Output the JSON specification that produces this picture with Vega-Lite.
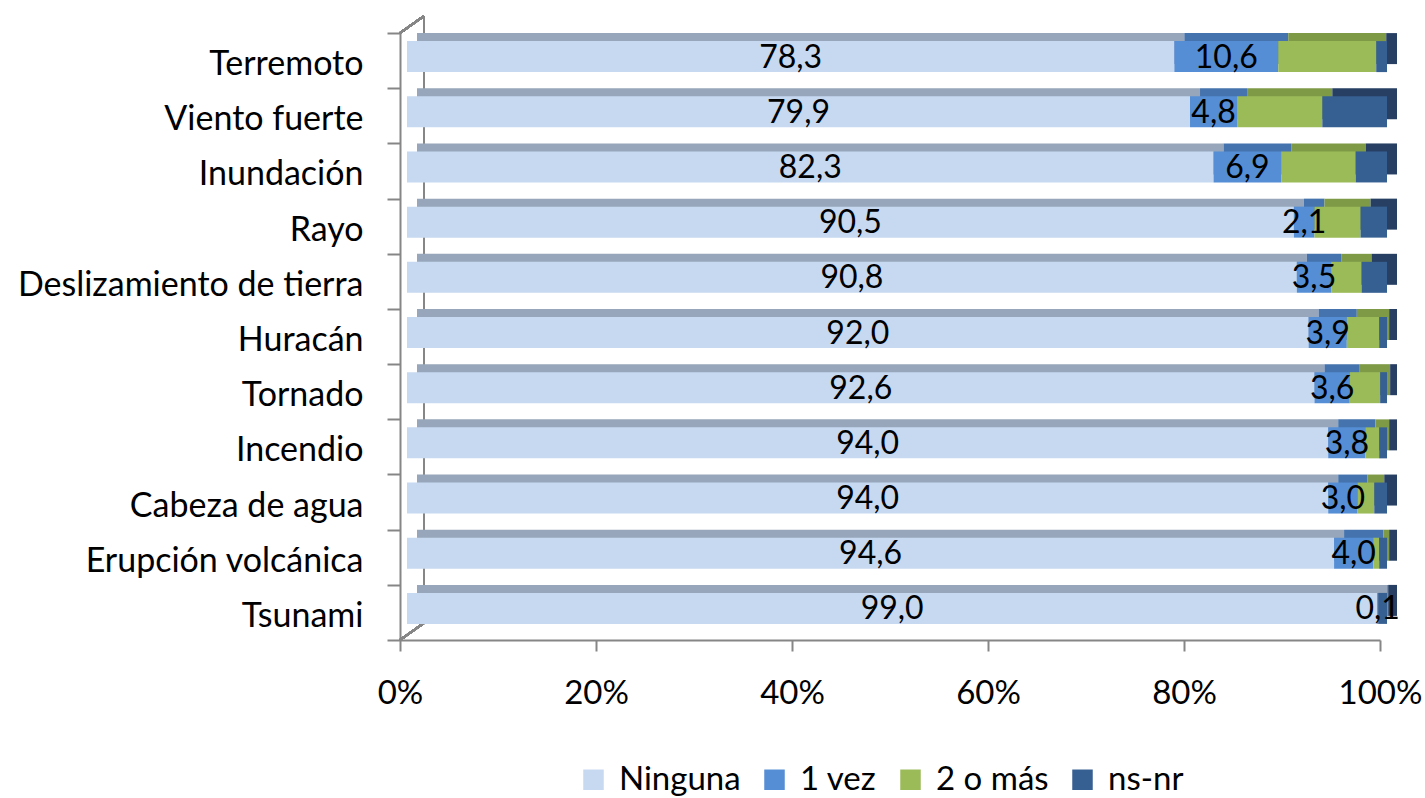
{
  "$schema": "https://vega.github.io/schema/vega-lite/v6.json",
  "width": 980,
  "height": 607,
  "autosize": {"type": "none"},
  "padding": {"left": 400, "top": 33, "right": 45, "bottom": 158},
  "config": {
    "locale": {"number": {"decimal": ",", "thousands": ".", "grouping": [3], "currency": ["", " €"]}},
    "view": {"stroke": null},
    "font": "Lato"
  },
  "data": {
    "values": [
      {"evento": "Terremoto", "Ninguna": 78.3, "1 vez": 10.6, "2 o más": 10.0, "ns-nr": 1.1},
      {"evento": "Viento fuerte", "Ninguna": 79.9, "1 vez": 4.8, "2 o más": 8.7, "ns-nr": 6.6},
      {"evento": "Inundación", "Ninguna": 82.3, "1 vez": 6.9, "2 o más": 7.6, "ns-nr": 3.2},
      {"evento": "Rayo", "Ninguna": 90.5, "1 vez": 2.1, "2 o más": 4.7, "ns-nr": 2.7},
      {"evento": "Deslizamiento de tierra", "Ninguna": 90.8, "1 vez": 3.5, "2 o más": 3.1, "ns-nr": 2.6},
      {"evento": "Huracán", "Ninguna": 92.0, "1 vez": 3.9, "2 o más": 3.3, "ns-nr": 0.8},
      {"evento": "Tornado", "Ninguna": 92.6, "1 vez": 3.6, "2 o más": 3.1, "ns-nr": 0.7},
      {"evento": "Incendio", "Ninguna": 94.0, "1 vez": 3.8, "2 o más": 1.4, "ns-nr": 0.8},
      {"evento": "Cabeza de agua", "Ninguna": 94.0, "1 vez": 3.0, "2 o más": 1.7, "ns-nr": 1.3},
      {"evento": "Erupción volcánica", "Ninguna": 94.6, "1 vez": 4.0, "2 o más": 0.6, "ns-nr": 0.8},
      {"evento": "Tsunami", "Ninguna": 99.0, "1 vez": 0.1, "2 o más": 0.0, "ns-nr": 0.9}
    ]
  },
  "transform": [
    {"fold": ["Ninguna", "1 vez", "2 o más", "ns-nr"], "as": ["cat", "value"]},
    {"calculate": "indexof(['Ninguna','1 vez','2 o más','ns-nr'], datum.cat)", "as": "ord"},
    {"stack": "value", "groupby": ["evento"], "sort": [{"field": "ord", "order": "ascending"}], "as": ["x0", "x1"]},
    {"calculate": "(datum.x0 + datum.x1) / 2", "as": "xm"}
  ],
  "resolve": {"scale": {"color": "independent"}, "legend": {"color": "independent"}},
  "layer": [
    {
      "mark": {"type": "rule", "color": "#868686", "strokeWidth": 2, "xOffset": 24, "yOffset": -17, "y2Offset": 10.6},
      "encoding": {
        "x": {"datum": 0, "type": "quantitative", "scale": {"domain": [0, 100], "nice": false}},
        "y": {"datum": "Terremoto", "type": "nominal", "bandPosition": 0},
        "y2": {"datum": "Tsunami"}
      }
    },
    {
      "mark": {"type": "rule", "color": "#868686", "strokeWidth": 2, "x2Offset": 24, "y2Offset": -44.6},
      "encoding": {
        "x": {"datum": 0, "type": "quantitative"},
        "x2": {"datum": 0},
        "y": {"datum": "Terremoto", "type": "nominal", "bandPosition": 0},
        "y2": {"datum": "Terremoto"}
      }
    },
    {
      "mark": {"type": "rule", "color": "#868686", "strokeWidth": 2, "x2Offset": 24, "y2Offset": 10.6},
      "encoding": {
        "x": {"datum": 0, "type": "quantitative"},
        "x2": {"datum": 0},
        "y": {"datum": "Tsunami", "type": "nominal", "bandPosition": 1},
        "y2": {"datum": "Tsunami"}
      }
    },
    {
      "mark": {"type": "bar", "size": 31, "xOffset": 17, "x2Offset": 17, "yOffset": -12},
      "encoding": {
        "y": {"field": "evento", "type": "nominal", "sort": ["Terremoto", "Viento fuerte", "Inundación", "Rayo", "Deslizamiento de tierra", "Huracán", "Tornado", "Incendio", "Cabeza de agua", "Erupción volcánica", "Tsunami"], "scale": {"paddingInner": 0, "paddingOuter": 0},
          "axis": {"title": null, "tickBand": "extent", "domainColor": "#868686", "domainWidth": 2, "tickColor": "#868686", "tickWidth": 2, "tickSize": 13, "labelFontSize": 34, "labelColor": "#000000", "labelPadding": 24, "labelFont": "Lato", "labelLimit": 400, "labelOffset": 4}},
        "x": {"field": "x0", "type": "quantitative", "scale": {"domain": [0, 100], "nice": false}},
        "x2": {"field": "x1"},
        "color": {"field": "cat", "type": "nominal", "scale": {"domain": ["Ninguna", "1 vez", "2 o más", "ns-nr"], "range": ["#97A6BA", "#4573AD", "#7E9A47", "#263F63"]}, "legend": null}
      }
    },
    {
      "mark": {"type": "bar", "size": 31, "xOffset": 7, "x2Offset": 7, "yOffset": -4},
      "encoding": {
        "y": {"field": "evento", "type": "nominal", "sort": ["Terremoto", "Viento fuerte", "Inundación", "Rayo", "Deslizamiento de tierra", "Huracán", "Tornado", "Incendio", "Cabeza de agua", "Erupción volcánica", "Tsunami"], "scale": {"paddingInner": 0, "paddingOuter": 0},
          "axis": {"title": null, "tickBand": "extent", "domainColor": "#868686", "domainWidth": 2, "tickColor": "#868686", "tickWidth": 2, "tickSize": 13, "labelFontSize": 34, "labelColor": "#000000", "labelPadding": 24, "labelFont": "Lato", "labelLimit": 400, "labelOffset": 4}},
        "x": {"field": "x0", "type": "quantitative", "scale": {"domain": [0, 100], "nice": false},
          "axis": {"values": [0, 20, 40, 60, 80, 100], "labelExpr": "datum.value + '%'", "title": null, "grid": false, "domainColor": "#868686", "domainWidth": 2, "tickColor": "#868686", "tickWidth": 2, "tickSize": 11, "labelFontSize": 33, "labelPadding": 26, "labelColor": "#000000", "labelFont": "Lato", "labelBound": false, "labelOverlap": false, "labelFlush": false}},
        "x2": {"field": "x1"},
        "color": {"field": "cat", "type": "nominal", "scale": {"domain": ["Ninguna", "1 vez", "2 o más", "ns-nr"], "range": ["#C6D9F1", "#558ED5", "#9BBB59", "#376092"]},
          "legend": {"orient": "none", "legendX": 177, "legendY": 730, "direction": "horizontal", "columns": 4, "title": null, "symbolType": "square", "symbolSize": 420, "symbolStrokeWidth": 0, "labelFontSize": 33, "labelFont": "Lato", "labelOffset": 9, "columnPadding": 17, "labelColor": "#000000"}}
      }
    },
    {
      "transform": [{"filter": "datum.cat === 'Ninguna' || datum.cat === '1 vez'"}],
      "mark": {"type": "text", "fontSize": 32, "font": "Lato", "color": "#000000", "xOffset": 7, "yOffset": -3, "baseline": "middle"},
      "encoding": {
        "y": {"field": "evento", "type": "nominal", "sort": ["Terremoto", "Viento fuerte", "Inundación", "Rayo", "Deslizamiento de tierra", "Huracán", "Tornado", "Incendio", "Cabeza de agua", "Erupción volcánica", "Tsunami"]},
        "x": {"field": "xm", "type": "quantitative"},
        "text": {"field": "value", "type": "quantitative", "format": ".1f"}
      }
    }
  ]
}
